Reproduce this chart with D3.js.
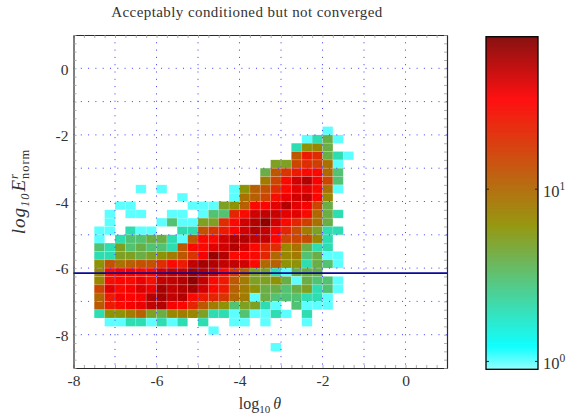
<!DOCTYPE html>
<html><head><meta charset="utf-8">
<style>html,body{margin:0;padding:0;background:#fff}svg{display:block}text{font-family:"Liberation Serif",serif;fill:#333}</style>
<script src="https://cdn.jsdelivr.net/npm/d3@7"></script></head><body><svg id="c" width="576" height="419"></svg>
<script>
const title = "Acceptably conditioned but not converged";
const xTickLabels = [-8,-6,-4,-2,0];
const yTickLabels = [0,-2,-4,-6,-8];
const thresholdLine = -6.15;
const colStart = -7.5, binSize = 0.25, rowStart = -1.75;
// counts per bin; rows from top (log10 E = -1.75) downward, columns from log10 theta = -7.5
const counts = [
[0,0,0,0,0,0,0,0,0,0,0,0,0,0,0,0,0,0,0,0,0,0,1,0,0],
[0,0,0,0,0,0,0,0,0,0,0,0,0,0,0,0,0,0,0,0,1,2,4,1,0],
[0,0,0,0,0,0,0,0,0,0,0,0,0,0,0,0,0,0,0,2,6,7,4,0,0],
[0,0,0,0,0,0,0,0,0,0,0,0,0,0,0,0,0,0,0,12,25,20,4,2,1],
[0,0,0,0,0,0,0,0,0,0,0,0,0,0,0,0,0,5,5,15,20,16,9,1,0],
[0,0,0,0,0,0,0,0,0,0,0,0,0,0,0,0,4,12,18,25,30,30,10,3,0],
[0,0,0,0,0,0,0,0,0,0,0,0,0,0,0,0,8,15,30,45,55,35,15,3,0],
[0,0,0,0,1,0,1,0,0,0,0,0,0,1,6,11,13,20,30,40,40,30,9,1,0],
[0,0,0,0,0,0,0,0,1,0,0,0,0,1,9,11,15,28,38,45,50,32,7,0,0],
[0,0,1,1,0,0,0,0,0,1,1,1,5,6,11,30,32,40,55,40,35,15,4,0,0],
[0,1,0,1,1,0,0,1,1,0,1,3,3,22,30,45,50,48,40,40,30,10,4,2,0],
[0,1,0,0,0,0,1,3,1,1,5,5,20,30,45,55,70,45,30,22,16,9,4,0,0],
[1,1,0,2,1,1,0,0,2,2,13,18,25,32,45,55,50,35,22,14,8,5,2,2,0],
[1,0,2,3,3,4,4,2,1,12,30,30,45,55,55,50,50,32,15,15,14,7,2,0,0],
[3,2,5,3,4,3,3,2,12,30,30,40,45,55,45,30,22,20,7,9,4,2,2,0,0],
[2,2,5,5,4,5,6,8,12,18,35,65,55,30,32,30,22,10,7,8,3,4,1,1,0],
[6,13,9,11,13,13,20,30,25,50,60,55,50,50,45,30,10,11,6,6,2,4,3,1,0],
[7,30,35,35,30,30,45,50,50,65,55,50,30,18,11,5,5,2,1,4,4,4,0,0,0],
[7,28,32,30,38,28,50,50,55,70,50,30,25,12,8,5,5,6,4,1,4,3,3,1,0],
[15,40,30,35,42,38,60,50,55,60,45,30,25,11,8,6,4,4,3,4,5,2,3,1,0],
[10,25,35,32,35,55,60,50,55,30,25,22,18,10,8,1,4,3,3,3,2,2,1,0,0],
[12,25,30,35,38,50,55,35,32,22,12,8,6,3,5,5,2,1,0,3,1,1,1,0,0],
[2,6,6,8,11,5,4,7,8,7,5,2,2,1,3,1,1,2,1,0,2,0,0,0,0],
[0,1,1,2,2,1,2,1,2,0,2,0,0,1,1,0,1,0,0,0,1,0,0,0,0],
[0,0,0,0,0,0,0,0,0,0,0,1,0,0,0,0,0,0,0,0,0,0,0,0,0],
[0,0,0,0,0,0,0,0,0,0,0,0,0,0,0,0,0,0,0,0,0,0,0,0,0],
[0,0,0,0,0,0,0,0,0,0,0,0,0,0,0,0,0,1,0,0,0,0,0,0,0]
];
const colorDomain = [0.9, 76.8];
const colorStops = [0, 0.068, 0.434, 0.81, 1];
const colorValues = ["#8cffff","#00ffff","#909000","#ff0000","#800000"];

const L=73.5,R=447,T=35,B=368;
const x=d3.scaleLinear().domain([-8,1]).range([L,R]);
const y=d3.scaleLinear().domain([1,-9]).range([T,B]);
const logT=d3.scaleLog().domain(colorDomain).range([0,1]);
const ramp=d3.scaleLinear().domain(colorStops).range(colorValues).interpolate(d3.interpolateRgb).clamp(true);
const color=v=>ramp(logT(v));

const svg=d3.select("#c");
const cells=[];
counts.forEach((r,ri)=>r.forEach((v,ci)=>{ if(v>0) cells.push({
  x0:colStart+ci*binSize,x1:colStart+(ci+1)*binSize,
  y0:rowStart-ri*binSize,y1:rowStart-(ri+1)*binSize,v}); }));

const cg=svg.append("g");
cg.selectAll("rect").data(cells).join("rect")
 .attr("x",d=>x(d.x0)).attr("y",d=>y(d.y0))
 .attr("width",d=>x(d.x1)-x(d.x0)).attr("height",d=>y(d.y1)-y(d.y0))
 .attr("fill",d=>color(d.v));
cg.selectAll("path.seam").data(cells).join("path").attr("class","seam")
 .attr("d",d=>`M${x(d.x0)},${y(d.y0)}H${x(d.x1)}V${y(d.y1)}H${x(d.x0)}Z`)
 .attr("fill","none").attr("stroke","#fff").attr("stroke-opacity",0.13).attr("stroke-width",0.8);
cg.selectAll("path.diag").data(cells).join("path").attr("class","diag")
 .attr("d",d=>`M${x(d.x0)},${y(d.y1)}L${x(d.x1)},${y(d.y0)}`)
 .attr("fill","none").attr("stroke","#fff").attr("stroke-opacity",0.08).attr("stroke-width",0.6);

// dotted grid
const grid=svg.append("g").attr("stroke","#3a3aff").attr("stroke-width",1).attr("stroke-dasharray","1 6.3");
grid.selectAll("line.v").data(d3.range(-7,0.5,1)).join("line").attr("class","v")
 .attr("x1",d=>x(d)).attr("x2",d=>x(d)).attr("y1",T).attr("y2",B);
grid.selectAll("line.h").data(d3.range(0,-8.5,-1)).join("line").attr("class","h")
 .attr("y1",d=>y(d)).attr("y2",d=>y(d)).attr("x1",L).attr("x2",R);

// threshold
svg.append("line").attr("x1",L).attr("x2",R).attr("y1",y(thresholdLine)).attr("y2",y(thresholdLine))
 .attr("stroke","#0a0a96").attr("stroke-width",1.6);

// axes
const xTicks=d3.range(-8,1.01,0.25), yTicks=d3.range(-9,1.01,0.25);
const axisStyle=g=>{g.selectAll(".domain").attr("stroke","#2a2a2a").attr("stroke-width",1.2);
 g.selectAll(".tick line").attr("stroke","#999").attr("stroke-width",0.8);
 g.selectAll("text").style("font-size","15.5px").style("font-family",'"Liberation Serif",serif').attr("fill","#333");};
const fmtX=d=>xTickLabels.includes(d)?String(d):"";
const fmtY=d=>yTickLabels.includes(d)?String(d):"";
svg.append("g").attr("transform",`translate(0,${B})`).call(d3.axisBottom(x).tickValues(xTicks).tickSizeInner(-3).tickSizeOuter(0).tickPadding(7).tickFormat(fmtX)).call(axisStyle);
svg.append("g").attr("transform",`translate(0,${T})`).call(d3.axisTop(x).tickValues(xTicks).tickSizeInner(-3).tickSizeOuter(0).tickFormat("")).call(axisStyle);
svg.append("g").attr("transform",`translate(${L},0)`).call(d3.axisLeft(y).tickValues(yTicks).tickSizeInner(-3).tickSizeOuter(0).tickPadding(5).tickFormat(fmtY)).call(axisStyle)
 .selectAll("text").attr("dy","0.37em");
svg.append("g").attr("transform",`translate(${R},0)`).call(d3.axisRight(y).tickValues(yTicks).tickSizeInner(-3).tickSizeOuter(0).tickFormat("")).call(axisStyle);

// title
svg.append("text").attr("x",247).attr("y",17).attr("text-anchor","middle").style("font-size","15px").style("letter-spacing","0.42px").text(title);

// x label
const xl=svg.append("text").attr("x",260).attr("y",409).attr("text-anchor","middle").style("font-size","16px");
xl.append("tspan").text("log");
xl.append("tspan").attr("dy",3.5).style("font-size","11px").text("10");
xl.append("tspan").attr("dy",-3.5).attr("dx",3).style("font-style","italic").text("θ");

// y label
const yl=svg.append("text").attr("transform","translate(25,191.5) rotate(-90)").attr("text-anchor","middle").style("font-size","19px").style("letter-spacing","1px");
yl.append("tspan").style("font-style","italic").text("log");
yl.append("tspan").attr("dy",3.5).style("font-size","12.5px").style("font-style","italic").text("10");
yl.append("tspan").attr("dy",-3.5).attr("dx",1).style("font-style","italic").text("E");
yl.append("tspan").attr("dy",-7).style("font-size","12.5px").style("font-style","italic").text("r");
yl.append("tspan").attr("dy",11).attr("dx",-6).style("font-size","12.5px").text("norm");

// colorbar
const cbL=486,cbR=538,cbT=36.7,cbB=369.3;
const cy=d3.scaleLog().domain(colorDomain).range([cbB,cbT]);
const cbg=svg.append("g");
const pix=d3.range(cbT,cbB,1);
cbg.selectAll("rect").data(pix).join("rect").attr("x",cbL).attr("width",cbR-cbL)
 .attr("y",d=>d).attr("height",1.2).attr("fill",d=>color(cy.invert(d+0.5)));
svg.append("rect").attr("x",cbL).attr("y",cbT).attr("width",cbR-cbL).attr("height",cbB-cbT)
 .attr("fill","none").attr("stroke","#000").attr("stroke-width",1.3);
const cbTicks=[1,10];
svg.append("g").selectAll("path").data(cbTicks).join("path")
 .attr("d",d=>`M${cbL},${cy(d)}h3M${cbR},${cy(d)}h-3`).attr("stroke","#222").attr("stroke-width",1);
const cl=svg.append("g").selectAll("text").data(cbTicks).join("text")
 .attr("x",543).attr("y",d=>cy(d)+7.5).style("font-size","16.5px");
cl.append("tspan").text("10");
cl.append("tspan").attr("dy",-7).style("font-size","11.5px").text(d=>d===1?"0":"1");
</script></body></html>
